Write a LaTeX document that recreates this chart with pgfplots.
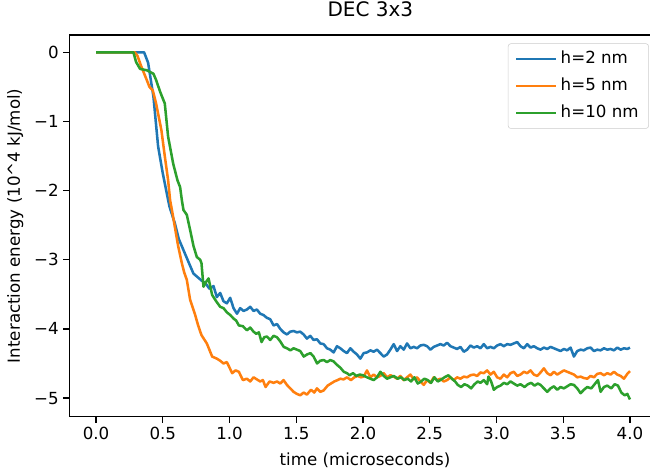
\documentclass[border=0pt]{standalone}
\usepackage{fontspec}
\setmainfont{DejaVu Sans}
\usepackage{pgfplots}
\pgfplotsset{compat=1.18}

\definecolor{c0}{HTML}{1F77B4}
\definecolor{c1}{HTML}{FF7F0E}
\definecolor{c2}{HTML}{2CA02C}

\pgfplotstableread{
t v
0.000 0
0.360 0
0.390 -0.15
0.430 -0.64
0.465 -1.36
0.500 -1.75
0.550 -2.23
0.590 -2.47
0.620 -2.70
0.655 -2.86
0.690 -3.02
0.730 -3.20
0.760 -3.25
0.790 -3.30
0.820 -3.34
0.850 -3.42
0.880 -3.38
0.905 -3.54
0.930 -3.48
0.955 -3.60
0.980 -3.63
1.005 -3.55
1.030 -3.70
1.056 -3.78
1.080 -3.70
1.105 -3.74
1.130 -3.72
1.155 -3.68
1.180 -3.74
1.205 -3.72
1.230 -3.78
1.255 -3.80
1.280 -3.84
1.305 -3.86
1.330 -3.95
1.356 -3.93
1.380 -4.00
1.405 -4.05
1.430 -4.08
1.455 -4.04
1.480 -4.03
1.505 -4.05
1.530 -4.04
1.555 -4.08
1.580 -4.14
1.605 -4.10
1.630 -4.16
1.655 -4.15
1.680 -4.21
1.705 -4.22
1.730 -4.28
1.755 -4.30
1.780 -4.34
1.805 -4.25
1.830 -4.28
1.855 -4.32
1.880 -4.35
1.905 -4.28
1.930 -4.33
1.955 -4.37
1.980 -4.43
2.005 -4.35
2.030 -4.34
2.055 -4.31
2.080 -4.33
2.105 -4.30
2.130 -4.35
2.155 -4.40
2.180 -4.37
2.205 -4.30
2.230 -4.22
2.255 -4.32
2.280 -4.25
2.305 -4.30
2.330 -4.21
2.355 -4.28
2.380 -4.26
2.405 -4.28
2.430 -4.24
2.455 -4.23
2.480 -4.25
2.505 -4.30
2.530 -4.26
2.555 -4.24
2.580 -4.22
2.605 -4.24
2.630 -4.20
2.655 -4.25
2.680 -4.27
2.705 -4.29
2.730 -4.26
2.755 -4.33
2.780 -4.30
2.805 -4.24
2.830 -4.27
2.855 -4.25
2.880 -4.28
2.905 -4.22
2.930 -4.28
2.955 -4.26
2.980 -4.28
3.005 -4.24
3.030 -4.22
3.055 -4.25
3.080 -4.22
3.105 -4.23
3.130 -4.21
3.155 -4.19
3.180 -4.25
3.205 -4.28
3.230 -4.22
3.255 -4.27
3.280 -4.25
3.305 -4.28
3.330 -4.30
3.355 -4.27
3.380 -4.29
3.405 -4.26
3.430 -4.28
3.455 -4.30
3.480 -4.32
3.505 -4.29
3.530 -4.31
3.555 -4.27
3.580 -4.40
3.605 -4.32
3.630 -4.30
3.655 -4.31
3.680 -4.28
3.705 -4.27
3.730 -4.32
3.755 -4.30
3.780 -4.31
3.805 -4.28
3.830 -4.30
3.855 -4.29
3.880 -4.31
3.905 -4.27
3.930 -4.30
3.955 -4.28
3.980 -4.29
4.000 -4.27
}\hA

\pgfplotstableread{
t v
0.000 0
0.290 0
0.310 -0.05
0.340 -0.21
0.380 -0.40
0.400 -0.50
0.425 -0.55
0.450 -0.74
0.490 -1.13
0.515 -1.50
0.540 -1.85
0.555 -2.14
0.575 -2.35
0.590 -2.52
0.615 -2.80
0.643 -3.05
0.660 -3.18
0.680 -3.29
0.705 -3.58
0.740 -3.78
0.765 -3.95
0.790 -4.09
0.830 -4.21
0.870 -4.40
0.905 -4.43
0.930 -4.46
0.955 -4.50
0.980 -4.48
1.000 -4.56
1.020 -4.64
1.045 -4.60
1.070 -4.62
1.100 -4.74
1.130 -4.72
1.155 -4.76
1.180 -4.70
1.205 -4.73
1.230 -4.76
1.250 -4.74
1.270 -4.84
1.300 -4.76
1.330 -4.78
1.356 -4.76
1.380 -4.79
1.405 -4.74
1.430 -4.81
1.455 -4.86
1.480 -4.91
1.505 -4.94
1.530 -4.96
1.555 -4.92
1.580 -4.95
1.610 -4.88
1.635 -4.92
1.655 -4.86
1.680 -4.91
1.705 -4.89
1.735 -4.82
1.760 -4.79
1.785 -4.76
1.810 -4.74
1.830 -4.72
1.855 -4.73
1.880 -4.70
1.910 -4.74
1.935 -4.70
1.960 -4.68
1.985 -4.70
2.005 -4.69
2.030 -4.60
2.055 -4.70
2.080 -4.66
2.105 -4.70
2.130 -4.68
2.155 -4.64
2.180 -4.70
2.205 -4.67
2.230 -4.69
2.255 -4.72
2.280 -4.68
2.305 -4.74
2.330 -4.70
2.355 -4.66
2.380 -4.73
2.405 -4.70
2.430 -4.76
2.455 -4.81
2.480 -4.74
2.505 -4.78
2.530 -4.70
2.555 -4.74
2.580 -4.72
2.605 -4.76
2.630 -4.74
2.655 -4.70
2.680 -4.74
2.705 -4.70
2.730 -4.72
2.755 -4.69
2.780 -4.70
2.805 -4.67
2.830 -4.66
2.855 -4.68
2.880 -4.63
2.905 -4.64
2.930 -4.60
2.955 -4.66
2.980 -4.62
3.005 -4.70
3.030 -4.72
3.055 -4.66
3.080 -4.70
3.105 -4.64
3.130 -4.62
3.155 -4.68
3.180 -4.66
3.205 -4.62
3.230 -4.64
3.255 -4.60
3.280 -4.66
3.305 -4.68
3.330 -4.63
3.355 -4.57
3.380 -4.64
3.405 -4.67
3.430 -4.62
3.455 -4.66
3.480 -4.63
3.505 -4.60
3.530 -4.62
3.555 -4.64
3.580 -4.66
3.605 -4.70
3.630 -4.69
3.655 -4.71
3.680 -4.72
3.705 -4.68
3.730 -4.70
3.755 -4.65
3.780 -4.64
3.805 -4.67
3.830 -4.64
3.855 -4.66
3.880 -4.62
3.905 -4.66
3.930 -4.68
3.955 -4.72
3.980 -4.65
4.000 -4.61
}\hB

\pgfplotstableread{
t v
0.000 0
0.280 0
0.300 -0.14
0.330 -0.24
0.380 -0.26
0.430 -0.31
0.450 -0.40
0.480 -0.57
0.515 -0.74
0.540 -1.22
0.578 -1.61
0.610 -1.85
0.630 -1.95
0.643 -2.14
0.655 -2.28
0.680 -2.35
0.705 -2.57
0.730 -2.80
0.755 -2.96
0.780 -3.00
0.790 -3.05
0.805 -3.39
0.825 -3.32
0.843 -3.27
0.870 -3.51
0.900 -3.60
0.930 -3.68
0.955 -3.70
0.980 -3.76
1.006 -3.80
1.030 -3.85
1.050 -3.88
1.070 -3.95
1.100 -3.96
1.130 -4.02
1.155 -3.98
1.180 -4.04
1.200 -4.07
1.220 -4.05
1.240 -4.19
1.260 -4.12
1.280 -4.11
1.305 -4.16
1.330 -4.10
1.355 -4.12
1.380 -4.18
1.406 -4.26
1.430 -4.28
1.456 -4.31
1.480 -4.28
1.505 -4.30
1.530 -4.32
1.556 -4.40
1.580 -4.37
1.606 -4.35
1.630 -4.40
1.656 -4.50
1.680 -4.46
1.706 -4.45
1.730 -4.48
1.755 -4.45
1.780 -4.47
1.805 -4.52
1.830 -4.56
1.856 -4.62
1.880 -4.64
1.900 -4.67
1.925 -4.64
1.950 -4.68
1.975 -4.66
2.000 -4.67
2.030 -4.70
2.055 -4.72
2.080 -4.74
2.105 -4.70
2.130 -4.62
2.155 -4.68
2.180 -4.72
2.205 -4.70
2.230 -4.68
2.260 -4.72
2.285 -4.70
2.310 -4.74
2.335 -4.72
2.360 -4.76
2.385 -4.70
2.410 -4.79
2.435 -4.76
2.460 -4.72
2.485 -4.74
2.510 -4.78
2.535 -4.70
2.560 -4.76
2.580 -4.74
2.610 -4.70
2.640 -4.67
2.665 -4.72
2.690 -4.76
2.710 -4.81
2.735 -4.84
2.760 -4.80
2.785 -4.82
2.810 -4.86
2.835 -4.80
2.860 -4.76
2.880 -4.78
2.905 -4.74
2.930 -4.80
2.940 -4.69
2.960 -4.76
2.980 -4.88
3.005 -4.84
3.030 -4.82
3.055 -4.78
3.080 -4.80
3.105 -4.76
3.130 -4.79
3.155 -4.82
3.180 -4.80
3.210 -4.84
3.235 -4.80
3.260 -4.78
3.285 -4.82
3.310 -4.79
3.330 -4.81
3.355 -4.86
3.380 -4.91
3.405 -4.86
3.430 -4.83
3.455 -4.88
3.480 -4.84
3.505 -4.86
3.530 -4.83
3.555 -4.80
3.580 -4.81
3.605 -4.86
3.630 -4.93
3.655 -4.88
3.680 -4.84
3.710 -4.86
3.735 -4.80
3.760 -4.74
3.780 -4.91
3.805 -4.84
3.830 -4.82
3.860 -4.86
3.885 -4.80
3.910 -4.82
3.935 -4.92
3.960 -4.96
3.980 -4.94
4.000 -5.02
}\hC

\begin{document}
\begin{tikzpicture}
% page = reference frame; the reference is cut just before the right spine
\useasboundingbox (-52pt,-39.2pt) rectangle (435.5pt,312.55pt);
\begin{axis}[
  scale only axis, width=435.5pt, height=286.3pt,
  xmin=-0.2, xmax=4.15, ymin=-5.27, ymax=0.25,
  axis y line*=left,
  axis line style={line width=0.9pt},
  tick align=outside, xtick pos=left, ytick pos=left,
  major tick length=4.5pt, every tick/.style={line width=0.9pt, black},
  xtick={0,0.5,...,4}, xticklabels={0.0,0.5,1.0,1.5,2.0,2.5,3.0,3.5,4.0},
  ytick={-5,-4,-3,-2,-1,0}, yticklabels={−5,−4,−3,−2,−1,0},
  tick label style={font=\fontsize{12.5}{15}\selectfont},
  /pgf/number format/assume math mode=true,
  title={DEC 3x3},
  title style={at={(axis description cs:0.5,1)}, anchor=center, yshift=13pt,
    xshift=8pt, font=\fontsize{15}{18}\selectfont},
  xlabel={time (microseconds)},
  xlabel style={at={(axis description cs:0.5,0)}, anchor=center, yshift=-33pt,
    xshift=4pt, font=\fontsize{12.5}{15}\selectfont},
  ylabel={Interaction energy (10\textasciicircum4 kJ/mol)},
  ylabel style={at={([xshift=-40.5pt]axis description cs:0,0.5)}, anchor=center,
    font=\fontsize{12.5}{15}\selectfont},
  legend style={at={(rel axis cs:0.998,0.978)}, anchor=north east,
    draw=black!20, rounded corners=2pt, fill=white, fill opacity=0.8, text opacity=1,
    font=\fontsize{12.5}{15}\selectfont, row sep=3.3pt, inner xsep=5pt, inner ysep=3pt,
    nodes={inner sep=2.5pt, text height=9.5pt, text depth=2.5pt}},
  legend cell align=left,
  legend image code/.code={\draw[#1, line width=1.9pt] (0pt,0pt) -- (30pt,0pt);},
  every axis plot/.append style={line width=1.9pt, line join=round},
]
\addplot[c0] table[x=t, y=v] {\hA};
\addplot[c1] table[x=t, y=v] {\hB};
\addplot[c2] table[x=t, y=v] {\hC};
\legend{h=2 nm, h=5 nm, h=10 nm}
\end{axis}
\end{tikzpicture}
\end{document}
